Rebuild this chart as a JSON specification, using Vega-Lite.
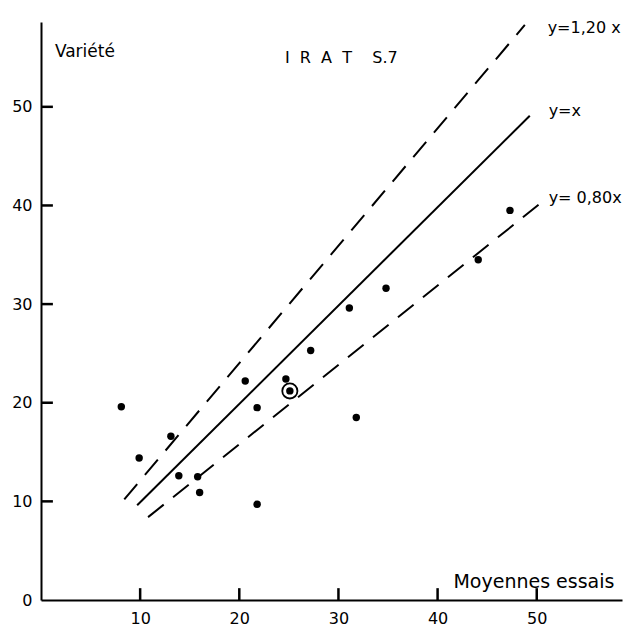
{
  "$schema": "https://vega.github.io/schema/vega-lite/v6.json",
  "width": 581,
  "height": 578,
  "autosize": {"type": "none"},
  "padding": {"left": 41, "top": 22, "right": 3, "bottom": 30},
  "background": "white",
  "config": {
    "view": {"stroke": null},
    "font": "DejaVu Sans",
    "axis": {
      "grid": false,
      "domainColor": "black",
      "domainWidth": 2,
      "ticks": false,
      "labelColor": "black",
      "labelFont": "DejaVu Sans",
      "labelFontSize": 16,
      "title": null
    }
  },
  "datasets": {
    "points": [
      {"x": 8.1, "y": 19.6},
      {"x": 9.9, "y": 14.4},
      {"x": 13.1, "y": 16.6},
      {"x": 13.9, "y": 12.6},
      {"x": 15.8, "y": 12.5},
      {"x": 16.0, "y": 10.9},
      {"x": 21.8, "y": 9.7},
      {"x": 21.8, "y": 19.5},
      {"x": 20.6, "y": 22.2},
      {"x": 24.7, "y": 22.4},
      {"x": 25.1, "y": 21.2},
      {"x": 27.2, "y": 25.3},
      {"x": 31.1, "y": 29.6},
      {"x": 34.8, "y": 31.6},
      {"x": 31.8, "y": 18.5},
      {"x": 44.1, "y": 34.5},
      {"x": 47.3, "y": 39.5}
    ],
    "circled": [{"x": 25.1, "y": 21.2}],
    "solid": [
      {"line": "y=x", "x": 9.7, "y": 9.6},
      {"line": "y=x", "x": 49.3, "y": 49.1}
    ],
    "dashed": [
      {"line": "1.20", "x": 8.4, "y": 10.2},
      {"line": "1.20", "x": 48.8, "y": 58.3},
      {"line": "0.80", "x": 10.8, "y": 8.4},
      {"line": "0.80", "x": 50.6, "y": 40.4}
    ],
    "xticks": [
      {"x": 10, "y": 0, "y2": 1.2},
      {"x": 20, "y": 0, "y2": 1.2},
      {"x": 30, "y": 0, "y2": 1.2},
      {"x": 40, "y": 0, "y2": 1.2},
      {"x": 50, "y": 0, "y2": 1.2}
    ],
    "yticks": [
      {"y": 10, "x": 0, "x2": 1.2},
      {"y": 20, "x": 0, "x2": 1.2},
      {"y": 30, "x": 0, "x2": 1.2},
      {"y": 40, "x": 0, "x2": 1.2},
      {"y": 50, "x": 0, "x2": 1.2}
    ],
    "labelsSmall": [
      {"x": 51.1, "y": 58.0, "label": "y=1,20 x"},
      {"x": 51.2, "y": 49.6, "label": "y=x"},
      {"x": 51.2, "y": 40.8, "label": "y= 0,80x"},
      {"x": 24.6, "y": 55.0, "label": "I\u00a0\u00a0R\u00a0\u00a0A\u00a0\u00a0T\u00a0\u00a0\u00a0\u00a0S.7"}
    ],
    "labelsMid": [
      {"x": 1.4, "y": 55.6, "label": "Variété"}
    ],
    "labelsLarge": [
      {"x": 41.6, "y": 1.8, "label": "Moyennes essais"}
    ]
  },
  "encoding": {
    "x": {
      "field": "x", "type": "quantitative",
      "scale": {"domain": [0, 58.6], "nice": false, "zero": false},
      "axis": {"values": [10, 20, 30, 40, 50], "labelPadding": 10}
    },
    "y": {
      "field": "y", "type": "quantitative",
      "scale": {"domain": [0, 58.6], "nice": false, "zero": false},
      "axis": {"values": [0, 10, 20, 30, 40, 50], "labelPadding": 9}
    }
  },
  "layer": [
    {
      "data": {"name": "solid"},
      "mark": {"type": "line", "color": "black", "strokeWidth": 2},
      "encoding": {"detail": {"field": "line"}}
    },
    {
      "data": {"name": "dashed"},
      "mark": {"type": "line", "color": "black", "strokeWidth": 2, "strokeDash": [20, 12]},
      "encoding": {"detail": {"field": "line"}}
    },
    {
      "data": {"name": "xticks"},
      "mark": {"type": "rule", "color": "black", "strokeWidth": 2.5},
      "encoding": {"y2": {"field": "y2"}}
    },
    {
      "data": {"name": "yticks"},
      "mark": {"type": "rule", "color": "black", "strokeWidth": 2.5},
      "encoding": {"x2": {"field": "x2"}}
    },
    {
      "data": {"name": "points"},
      "mark": {"type": "circle", "color": "black", "opacity": 1, "size": 55}
    },
    {
      "data": {"name": "circled"},
      "mark": {"type": "point", "shape": "circle", "filled": false, "color": "black", "strokeWidth": 1.8, "opacity": 1, "size": 230}
    },
    {
      "data": {"name": "labelsSmall"},
      "mark": {"type": "text", "align": "left", "baseline": "middle", "color": "black", "font": "DejaVu Sans", "fontSize": 16},
      "encoding": {"text": {"field": "label"}}
    },
    {
      "data": {"name": "labelsMid"},
      "mark": {"type": "text", "align": "left", "baseline": "middle", "color": "black", "font": "DejaVu Sans", "fontSize": 17},
      "encoding": {"text": {"field": "label"}}
    },
    {
      "data": {"name": "labelsLarge"},
      "mark": {"type": "text", "align": "left", "baseline": "middle", "color": "black", "font": "DejaVu Sans", "fontSize": 19},
      "encoding": {"text": {"field": "label"}}
    }
  ]
}
